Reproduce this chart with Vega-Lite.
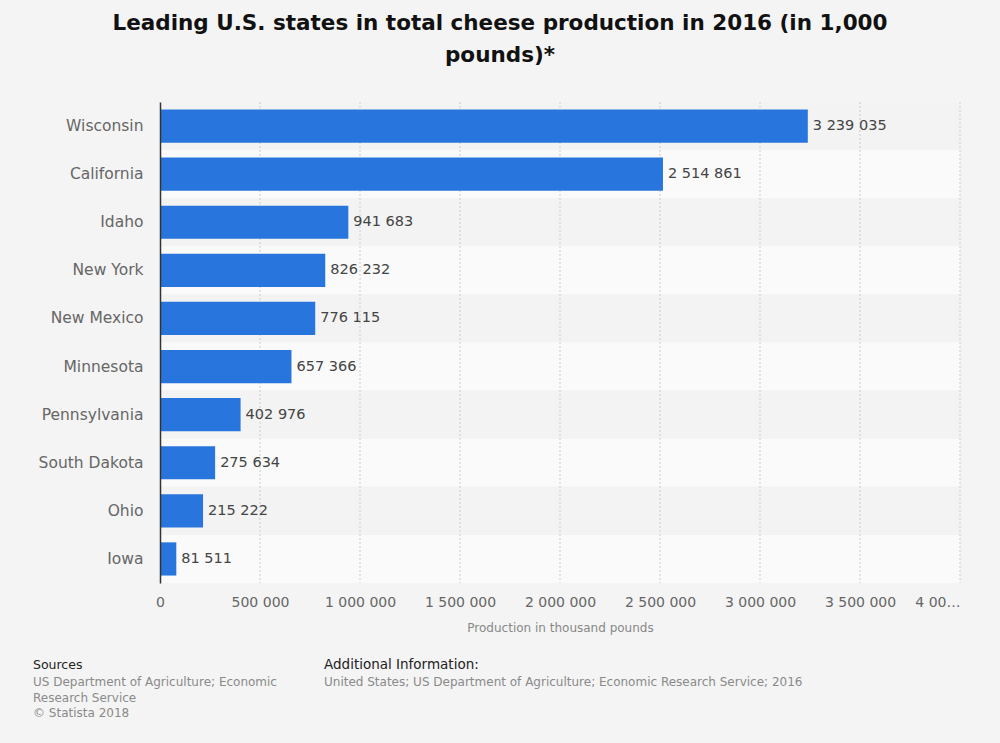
{
  "$schema": "https://vega.github.io/schema/vega-lite/v6.json",
  "width": 800,
  "height": 481,
  "autosize": {"type": "none"},
  "padding": {"left": 160, "top": 102, "right": 40, "bottom": 160},
  "background": "#f4f4f4",
  "title": {
    "text": ["Leading U.S. states in total cheese production in 2016 (in 1,000", "pounds)*"],
    "anchor": "middle",
    "frame": "group",
    "dx": -60,
    "offset": 35,
    "fontSize": 21.5,
    "font": "DejaVu Sans",
    "fontWeight": "bold",
    "color": "#111111",
    "lineHeight": 32
  },
  "config": {
    "locale": {"number": {"decimal": ".", "thousands": " ", "grouping": [3], "currency": ["", ""]}},
    "view": {"stroke": null},
    "font": "DejaVu Sans",
    "axisX": {
      "format": ",d",
      "labelExpr": "datum.value >= 4000000 ? '4 00…' : datum.label",
      "labelAlign": {"expr": "datum.value >= 4000000 ? 'right' : 'center'"},
      "labelFlush": false,
      "labelOverlap": false,
      "grid": false, "ticks": false, "domain": false,
      "labelFontSize": 14, "labelColor": "#666666", "labelPadding": 12,
      "titleFontSize": 12, "titleColor": "#888888", "titleFontWeight": "normal", "titlePadding": 13
    }
  },
  "datasets": {
    "states": [
      {"State": "Wisconsin", "Production": 3239035},
      {"State": "California", "Production": 2514861},
      {"State": "Idaho", "Production": 941683},
      {"State": "New York", "Production": 826232},
      {"State": "New Mexico", "Production": 776115},
      {"State": "Minnesota", "Production": 657366},
      {"State": "Pennsylvania", "Production": 402976},
      {"State": "South Dakota", "Production": 275634},
      {"State": "Ohio", "Production": 215222},
      {"State": "Iowa", "Production": 81511}
    ],
    "ticks": [
      {"v": 500000}, {"v": 1000000}, {"v": 1500000}, {"v": 2000000},
      {"v": 2500000}, {"v": 3000000}, {"v": 3500000}, {"v": 4000000}
    ]
  },
  "layer": [
    {
      "data": {"name": "states"},
      "transform": [{"window": [{"op": "row_number", "as": "rn"}]}],
      "mark": {"type": "bar", "height": {"band": 1}},
      "encoding": {
        "y": {
          "field": "State", "type": "nominal", "sort": null,
          "scale": {"paddingInner": 0, "paddingOuter": 0},
          "axis": {
            "title": null, "ticks": false, "domain": true, "domainColor": "#333333", "domainWidth": 1.5,
            "labelFontSize": 15.5, "labelColor": "#666666", "labelPadding": 17, "zindex": 1, "labelFont": "DejaVu Sans"
          }
        },
        "x": {
          "datum": 0, "type": "quantitative",
          "scale": {"domain": [0, 4000000], "nice": false},
          "title": "Production in thousand pounds",
          "axis": {"values": [0, 500000, 1000000, 1500000, 2000000, 2500000, 3000000, 3500000, 4000000]}
        },
        "x2": {"datum": 4000000},
        "fill": {"condition": {"test": "datum.rn % 2 === 1", "value": "#f3f3f3"}, "value": "#fafafa"}
      }
    },
    {
      "data": {"name": "ticks"},
      "mark": {"type": "rule", "color": "#cccccc", "strokeDash": [2, 2], "strokeWidth": 1},
      "encoding": {
        "x": {"field": "v", "type": "quantitative", "title": "Production in thousand pounds",
          "axis": {"values": [0, 500000, 1000000, 1500000, 2000000, 2500000, 3000000, 3500000, 4000000]}}
      }
    },
    {
      "data": {"name": "states"},
      "mark": {"type": "bar", "color": "#2876dd", "height": {"band": 0.69}},
      "encoding": {
        "y": {"field": "State", "type": "nominal", "sort": null},
        "x": {"field": "Production", "type": "quantitative", "title": "Production in thousand pounds",
          "axis": {"values": [0, 500000, 1000000, 1500000, 2000000, 2500000, 3000000, 3500000, 4000000]}}
      }
    },
    {
      "data": {"name": "states"},
      "mark": {"type": "text", "align": "left", "baseline": "middle", "dx": 5, "fontSize": 14.5, "color": "#444444"},
      "encoding": {
        "y": {"field": "State", "type": "nominal", "sort": null},
        "x": {"field": "Production", "type": "quantitative", "title": "Production in thousand pounds",
          "axis": {"values": [0, 500000, 1000000, 1500000, 2000000, 2500000, 3000000, 3500000, 4000000]}},
        "text": {"field": "Production", "type": "quantitative", "format": ",d"}
      }
    },
    {
      "data": {"values": [{}]},
      "mark": {"type": "text", "text": "Sources", "x": -127, "y": 563, "align": "left", "baseline": "middle", "fontSize": 12.5, "color": "#222222"},
      "encoding": {}
    },
    {
      "data": {"values": [{}]},
      "mark": {"type": "text", "text": ["US Department of Agriculture; Economic", "Research Service", "© Statista 2018"], "x": -127, "y": 580, "align": "left", "baseline": "middle", "lineHeight": 15.5, "fontSize": 12, "color": "#8a8a8a"},
      "encoding": {}
    },
    {
      "data": {"values": [{}]},
      "mark": {"type": "text", "text": "Additional Information:", "x": 164, "y": 563, "align": "left", "baseline": "middle", "fontSize": 13.5, "color": "#222222"},
      "encoding": {}
    },
    {
      "data": {"values": [{}]},
      "mark": {"type": "text", "text": "United States; US Department of Agriculture; Economic Research Service; 2016", "x": 164, "y": 580, "align": "left", "baseline": "middle", "fontSize": 12, "color": "#8a8a8a"},
      "encoding": {}
    }
  ]
}
